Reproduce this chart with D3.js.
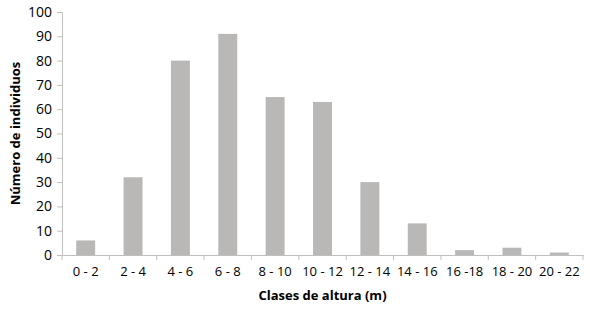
<!DOCTYPE html>
<html>
<head>
<meta charset="utf-8">
<script src="https://cdn.jsdelivr.net/npm/d3@7"></script>
<style>
  body { margin: 0; background: #fff; }
  text { font-family: "Open Sans", sans-serif; fill: #000; }
</style>
</head>
<body>
<div id="chart"></div>
<script>
var categories = ["0 - 2", "2 - 4", "4 - 6", "6 - 8", "8 - 10", "10 - 12", "12 - 14", "14 - 16", "16 -18", "18 - 20", "20 - 22"];
var values = [6, 32, 80, 91, 65, 63, 30, 13, 2, 3, 1];
var yTicks = [0, 10, 20, 30, 40, 50, 60, 70, 80, 90, 100];

var w = 590, h = 309;
var mLeft = 62, mRight = 583, mTop = 12, mBottom = 255;

var svg = d3.select("#chart").append("svg")
    .attr("width", w)
    .attr("height", h);

var x = d3.scaleBand().domain(categories).range([mLeft, mRight]).paddingInner(0.6).paddingOuter(0.3);
var xb = d3.scaleBand().domain(categories).range([mLeft, mRight]);
var y = d3.scaleLinear().domain([0, 100]).range([mBottom, mTop]);

// barras
svg.selectAll("rect.bar")
    .data(values)
    .enter()
    .append("rect")
    .attr("class", "bar")
    .attr("x", function(d, i) { return x(categories[i]); })
    .attr("y", function(d) { return y(d); })
    .attr("width", x.bandwidth())
    .attr("height", function(d) { return y(0) - y(d); })
    .attr("fill", "#bab8b7");

// eje y
var yAxis = svg.append("g")
    .attr("transform", "translate(" + mLeft + ",0)")
    .call(d3.axisLeft(y).tickValues(yTicks).tickSize(5).tickPadding(5));
yAxis.select(".domain").attr("stroke", "#bfbfbf");
yAxis.selectAll(".tick line").attr("stroke", "#bfbfbf");
yAxis.selectAll(".tick text").style("font-size", "14px");

// eje x
var xAxis = svg.append("g")
    .attr("transform", "translate(0," + mBottom + ")")
    .call(d3.axisBottom(xb).tickSize(0).tickPadding(12));
xAxis.select(".domain").attr("stroke", "#bfbfbf");
xAxis.selectAll(".tick text").style("font-size", "13px");

// marcas entre categorias
var bounds = categories.map(function(c) { return xb(c); }).concat([mRight]);
svg.selectAll("line.xt")
    .data(bounds)
    .enter()
    .append("line")
    .attr("x1", function(d) { return d; })
    .attr("x2", function(d) { return d; })
    .attr("y1", mBottom)
    .attr("y2", mBottom + 5)
    .attr("stroke", "#bfbfbf");

svg.append("text")
    .attr("x", (mLeft + mRight) / 2)
    .attr("y", 300)
    .attr("text-anchor", "middle")
    .style("font-size", "13px")
    .style("font-weight", "bold")
    .text("Clases de altura (m)");

svg.append("text")
    .attr("transform", "translate(20," + ((mTop + mBottom) / 2) + ") rotate(-90)")
    .attr("text-anchor", "middle")
    .style("font-size", "13px")
    .style("font-weight", "bold")
    .text("Número de individuos");
</script>
</body>
</html>
